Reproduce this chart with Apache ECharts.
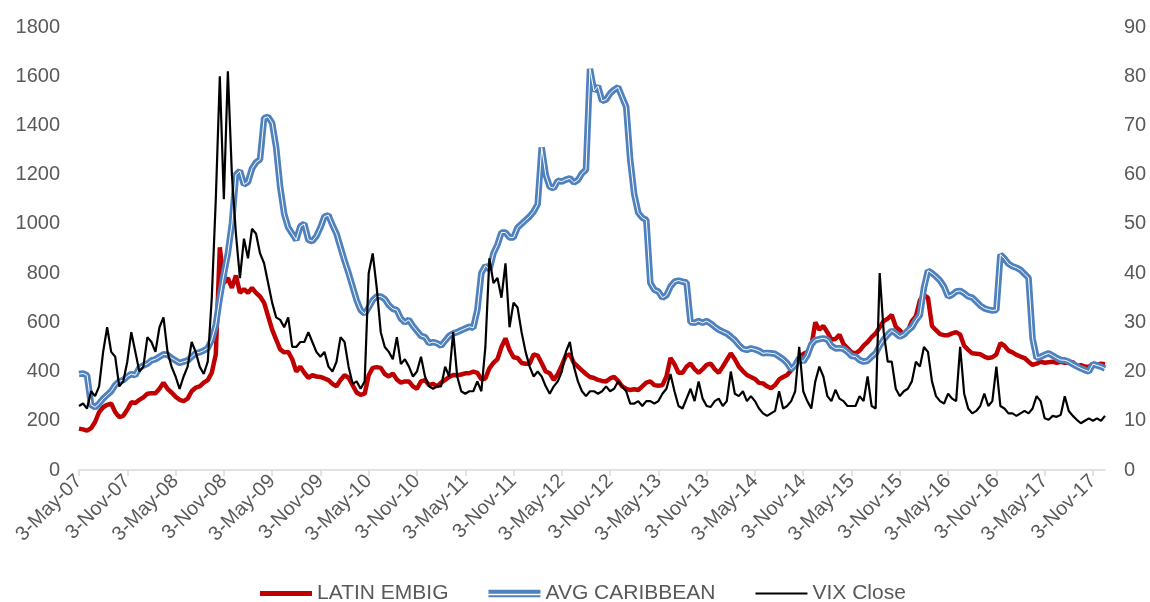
<!DOCTYPE html>
<html>
<head>
<meta charset="utf-8">
<script src="https://cdn.jsdelivr.net/npm/echarts@6/dist/echarts.min.js"></script>
<style>html,body{margin:0;padding:0;background:#fff}#chart{width:1150px;height:602px}</style>
</head>
<body>
<div id="chart"></div>
<script>
// Half-monthly observation dates (3rd and 18th of each month), May-07 .. Dec-17
const monthNames = ['Jan','Feb','Mar','Apr','May','Jun','Jul','Aug','Sep','Oct','Nov','Dec'];
const firstYear = 2007, firstMonth = 4, monthCount = 128, obsDays = [3, 18];
const categories = [];
for (let k = 0; k < monthCount; k++) {
  const m = (firstMonth + k) % 12;
  const y = firstYear + Math.floor((firstMonth + k) / 12);
  const yy = String(y % 100).padStart(2, '0');
  obsDays.forEach(d => categories.push(d + '-' + monthNames[m] + '-' + yy));
}

const leftTicks = [0, 1800, 200];
const rightTicks = [0, 90, 10];

const latinEmbig = [
  168,165,160,170,195,235,255,265,270,235,
  215,220,245,275,272,285,295,310,312,312,
  330,355,330,315,298,285,280,290,320,335,
  340,355,365,395,470,905,760,
  780,740,790,720,735,720,740,720,705,680,625,570,530,
  490,478,480,450,400,420,395,375,385,380,
  378,372,365,350,340,366,385,375,345,315,
  305,310,385,
  415,418,415,390,380,392,368,
  355,360,360,340,330,360,365,345,350,340,
  355,366,378,386,385,388,393,393,400,395,
  368,372,413,435,450,500,535,488,458,
  455,435,432,432,470,465,434,400,393,366,390,
  425,465,470,435,420,405,390,378,374,366,
  362,360,372,378,362,340,330,325,328,325,
  340,355,360,345,342,
  345,380,455,430,395,
  395,420,432,410,395,410,427,432,410,395,
  420,447,474,450,420,402,386,378,370,354,
  352,340,332,345,368,378,386,405,425,452,
  471,480,500,600,570,585,560,530,532,550,
  512,495,478,474,485,505,520,540,555,580,
  605,615,630,582,568,550,565,605,625,690,
  710,700,585,568,552,548,548,555,560,550,
  505,488,474,472,470,461,455,458,470,515,
  505,485,478,468,461,455,440,427,432,440,
  436,438,440,436,440,436,436,438,422,426,
  420,420,430,427,432,430
];

const avgCaribbean = [
  390,392,385,265,255,270,290,305,320,345,
  360,365,380,390,385,415,425,432,445,450,
  460,470,468,455,445,435,440,445,460,475,
  478,485,495,530,590,700,795,
  880,1000,1200,1215,1160,1170,1225,1250,1262,1430,1435,1410,1310,
  1150,1040,985,960,935,990,1000,935,930,950,
  985,1030,1035,995,960,905,850,800,745,690,
  650,635,660,690,705,705,695,670,655,650,
  615,600,610,585,565,545,540,515,520,515,
  505,525,545,555,560,568,575,582,578,650,
  800,830,815,880,915,965,965,945,945,985,
  1000,1015,1030,1050,1080,1310,1200,1150,1145,1175,
  1172,1180,1185,1168,1178,1205,1220,1630,1540,1560,
  1500,1505,1530,1545,1555,1515,1476,1260,1120,1045,
  1025,1016,760,732,725,700,710,745,765,770,
  765,762,600,598,605,598,605,595,582,570,
  562,555,542,528,508,492,488,494,490,484,
  474,476,474,472,461,450,434,410,425,455,
  440,465,510,528,532,535,530,505,494,495,
  492,480,463,461,447,440,444,460,474,505,
  530,550,566,555,542,550,567,580,608,630,
  740,810,800,786,770,745,705,712,725,728,
  718,705,700,685,668,657,652,648,650,875,
  860,838,828,822,813,797,780,535,455,460,
  468,474,465,455,447,446,440,430,421,413,
  406,400,430,425,420,412
];

const vixClose = [
  13,13.5,12.5,16,15,17,24,29,24,23,
  17,18,22,28,24,20,21,27,26,24,
  29,31,24,21,19,16.5,19,21,26,24,
  21,19.5,22,35,55,80,55,
  81,60,48,39,47,43,49,48,44,42,38,34,31,
  30.5,29,31,25,25,26,26,28,26,24,
  23,24,21,20,22,27,26,21,17.5,18,
  16.5,18,40,44,37,28,25,24,22.5,27,
  21.5,22.5,21,19,20,23,19,17,16.5,17,
  17,21,19,28,19,16,15.5,16,16,18,
  16,25,43,38,39,35,42,29,34,33,
  28,24,21,19,20,19,17,15.5,17,18,
  20,24,26,21,18,16,15,16,16,15.5,
  16,17,16,16.5,18,17,16,13.5,13.5,14,
  13,14,14,13.5,14,15.5,16.5,19.5,16,13,
  12.5,14.5,16.5,14,18,14.5,13,12.8,14,14.5,
  13,14,20,15.5,15,16,14,15,14,12.5,
  11.5,11,11.5,12,16,12.5,13,14,16,25,
  16,14,12.5,18,21,19,15,14,16.3,14.5,
  14,13,13,13,15,14,19,13,12.5,40,
  28,22,22,16.5,15,16,16.5,18,22,21,
  25,24,18,15,14,13.5,15.5,14.5,14,25,
  15.5,12.5,11.5,12,13,15.5,13,14,21,13,
  12.5,11.5,11.5,11,11.5,12,11.5,12.5,15,14,
  10.5,10.2,11,10.8,11.2,15,12,11,10.2,9.5,
  10,10.5,10,10.5,10,11
];

const seriesNames = ['LATIN EMBIG', 'AVG CARIBBEAN', 'VIX Close'];
const colors = ['#C00000', '#4F81BD', '#000000'];
const textColor = '#595959';
const font = 'Liberation Sans, Arial, sans-serif';

const chart = echarts.init(document.getElementById('chart'), null, {renderer: 'canvas'});
chart.setOption({
  animation: false,
  backgroundColor: '#ffffff',
  grid: {left: 79, right: 45, top: 27, bottom: 132, containLabel: false},
  legend: {
    left: 255, top: 578,
    itemWidth: 52, itemHeight: 8, itemGap: 40,
    textStyle: {color: textColor, fontSize: 21, fontFamily: font},
    data: [
      {name: seriesNames[0], icon: 'path://M0,0H52V5H0Z', itemStyle: {color: colors[0], borderWidth: 0}},
      {name: seriesNames[1], icon: 'path://M0,0H52V4H0ZM0,5.5H52V7.5H0Z', itemStyle: {color: colors[1], borderWidth: 0}},
      {name: seriesNames[2], icon: 'path://M0,0H52V2H0Z', itemStyle: {color: colors[2], borderWidth: 0}}
    ]
  },
  xAxis: {
    type: 'category',
    data: categories,
    boundaryGap: false,
    axisLine: {lineStyle: {color: '#d9d9d9', width: 1.5}},
    axisTick: {show: true, interval: 11, length: 6, lineStyle: {color: '#d9d9d9', width: 1.5}},
    axisLabel: {interval: 11, rotate: 45, margin: 8, color: textColor, fontSize: 20, fontFamily: font},
    splitLine: {show: false}
  },
  yAxis: [
    {type: 'value', min: leftTicks[0], max: leftTicks[1], interval: leftTicks[2],
     axisLine: {show: false}, axisTick: {show: false}, splitLine: {show: false},
     axisLabel: {margin: 19, color: textColor, fontSize: 20, fontFamily: font, formatter: v => String(v)}},
    {type: 'value', min: rightTicks[0], max: rightTicks[1], interval: rightTicks[2], position: 'right',
     axisLine: {show: false}, axisTick: {show: false}, splitLine: {show: false},
     axisLabel: {margin: 19, color: textColor, fontSize: 20, fontFamily: font, formatter: v => String(v)}}
  ],
  series: [
    {name: seriesNames[0], type: 'line', yAxisIndex: 0, data: latinEmbig, showSymbol: false, symbol: 'none',
     lineStyle: {color: colors[0], width: 4.5}, itemStyle: {color: colors[0]}, z: 2},
    {name: seriesNames[1], type: 'line', yAxisIndex: 0, data: avgCaribbean, showSymbol: false, symbol: 'none',
     lineStyle: {color: colors[1], width: 6.5}, itemStyle: {color: colors[1]}, z: 3},
    {name: 'caribbean-inner', type: 'line', yAxisIndex: 0, data: avgCaribbean, showSymbol: false, symbol: 'none',
     silent: true, lineStyle: {color: '#ffffff', width: 1}, itemStyle: {color: '#ffffff'}, z: 4},
    {name: seriesNames[2], type: 'line', yAxisIndex: 1, data: vixClose, showSymbol: false, symbol: 'none',
     lineStyle: {color: colors[2], width: 2.2}, itemStyle: {color: colors[2]}, z: 5}
  ]
});
</script>
</body>
</html>
